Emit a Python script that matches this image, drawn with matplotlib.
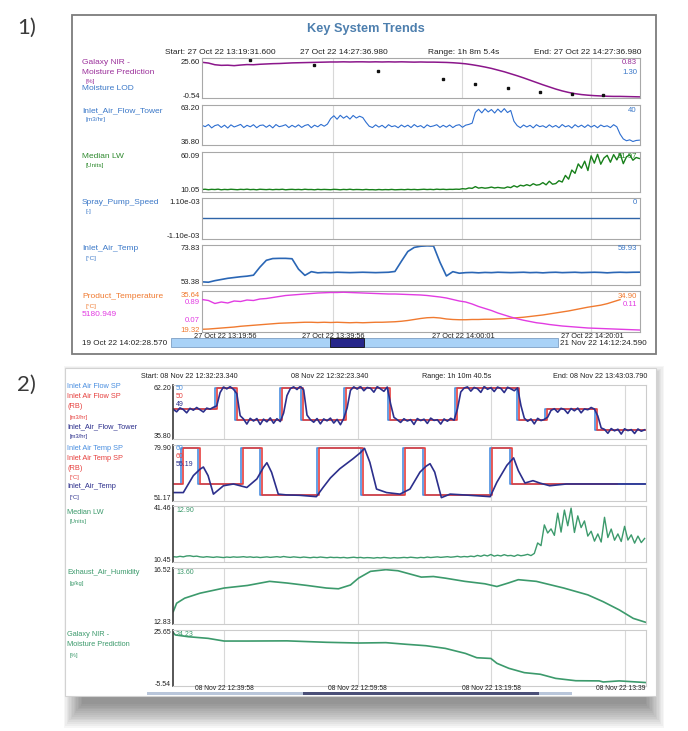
import matplotlib.pyplot as plt
from matplotlib.patches import Rectangle
from matplotlib.transforms import Bbox, TransformedBbox

W, H = 688, 731
plt.rcParams['font.family'] = ['Liberation Sans', 'DejaVu Sans']

# ---------------- panel 1 data (minutes after 27 Oct 22 13:19:31.6) ----------------
p1_minutes = list(range(69))
nir_moisture = [22.8, 22.3, 21.2, 20.8, 20.9, 20.6, 21.0, 21.3, 21.2, 21.5,
                21.7, 21.9, 22.0, 22.2, 22.4, 22.5, 22.6, 22.7, 22.8, 22.9,
                23.0, 23.0, 23.1, 23.0, 23.1, 23.1, 23.0, 23.1, 23.0, 23.1,
                23.0, 23.1, 23.0, 22.9, 23.0, 22.9, 22.9, 22.8, 22.7, 22.5,
                22.2, 21.8, 21.2, 20.5, 19.7, 18.8, 17.7, 16.6, 15.3, 14.0,
                12.6, 11.1, 9.6, 8.1, 6.7, 5.3, 4.1, 3.1, 2.3, 1.7,
                1.3, 1.0, 0.8, 0.6, 0.5, 0.5, 0.4, 0.3, 0.2]
lod_minutes = [7.5, 17.4, 27.4, 37.4, 42.5, 47.5, 52.5, 57.5, 62.4]
lod_values = [24.5, 20.8, 17.3, 11.9, 8.8, 6.2, 3.6, 2.1, 1.3]

half_minutes = [i * 0.5 for i in range(137)]
air_flow_tower = [49.8, 48.9, 50.3, 48.1, 49.6, 50.2, 48.4, 49.9, 48.0, 50.1,
                  48.7, 49.5, 50.4, 48.3, 49.8, 48.8, 50.2, 48.2, 49.7, 50.0,
                  48.5, 49.9, 48.1, 50.3, 48.9, 49.4, 50.2, 48.3, 49.8, 48.6,
                  50.1, 48.4, 49.7, 50.3, 48.2, 49.9, 48.8, 50.4, 49.2, 50.6,
                  54.2, 56.1, 53.8, 56.4, 54.5, 55.9, 53.9, 56.3, 54.6, 55.8, 54.9,
                  51.8, 49.2, 48.3, 50.1, 48.6, 49.8, 48.1, 50.2, 48.9, 49.5,
                  48.2, 50.0, 48.7, 49.9, 48.3, 50.3, 48.8, 49.6, 48.1, 50.1,
                  48.9, 49.4, 50.2, 48.4, 49.8, 48.6, 50.0, 48.3, 49.7, 50.2,
                  48.5, 49.9, 50.4, 51.2,
                  58.3, 60.4, 58.0, 60.7, 58.6, 60.2, 57.9, 60.5, 58.4, 60.8, 58.2, 59.6,
                  52.5, 49.6, 48.2, 50.0, 48.7, 49.8, 48.1, 50.2, 48.9, 49.5,
                  48.3, 50.1, 48.6, 49.7, 48.2, 50.3, 48.8, 49.6, 48.0, 50.2,
                  48.7, 49.9, 48.4, 50.1, 48.6, 49.8, 48.2, 50.0, 48.9, 49.5,
                  48.3, 50.2, 48.8,
                  44.0, 40.8, 39.6, 40.2, 39.1, 39.8, 40.0]
median_lw_1 = [13.2, 13.5, 12.9, 13.4, 13.1, 13.6, 12.8, 13.3, 13.0, 13.5,
               13.2, 12.9, 13.4, 13.1, 13.6, 13.0, 13.3, 12.8, 13.5, 13.2,
               13.0, 13.4, 12.9, 13.3, 13.1, 13.5, 12.8, 13.2, 13.4, 13.0,
               13.3, 12.9, 13.5, 13.1, 13.2, 12.8, 13.4, 13.0, 13.3, 13.1,
               12.9, 13.4, 13.2, 12.8, 13.3, 13.0, 13.5, 12.9, 13.2, 13.1,
               12.8, 13.3, 12.9, 13.0, 12.7, 13.2, 12.8, 13.1, 12.9, 13.3,
               12.8, 13.0, 13.2, 12.9, 13.4, 13.0, 13.3, 12.9, 13.2, 13.5,
               13.1, 13.4, 13.0, 13.6, 13.2, 13.5, 13.1, 13.4, 13.3, 13.6, 13.4,
               14.2, 13.8, 15.1, 14.6, 16.8, 14.9, 15.6, 14.8, 15.3, 16.2,
               15.1, 15.8, 15.2, 14.9, 16.4, 15.5, 17.9, 16.2, 18.5, 17.6,
               19.2, 17.8, 20.4, 18.6, 19.3, 21.8, 19.0, 23.5, 19.8, 20.6, 24.2,
               22.5, 30.8, 26.1, 37.5, 33.4, 45.2, 39.8, 48.6, 36.9, 55.3,
               46.1, 57.2, 44.8, 52.6, 55.9, 47.3, 56.8, 50.2, 58.4, 45.5,
               54.1, 56.6, 49.8, 53.2, 51.97]
spray_minutes = [0, 68.1]
spray_pump_speed = [0.0, 0.0]
inlet_air_temp_1 = [55.0, 54.8, 55.6, 56.2, 56.8, 57.2, 57.6, 57.9, 58.4, 62.5,
                    66.0, 66.9, 67.0, 67.0, 66.8, 61.5, 58.3, 60.2, 59.6, 59.8,
                    59.7, 59.9, 59.8, 59.7, 59.8, 59.9, 59.8, 59.7, 59.8, 59.9,
                    60.3, 65.5, 70.5, 72.6, 73.2, 73.4, 73.3, 65.0, 58.0, 60.2,
                    59.4, 59.7, 59.8, 59.6, 59.8, 59.7, 59.9, 59.8, 59.7, 59.8,
                    59.9, 59.7, 59.8, 59.6, 59.8, 59.9, 59.7, 59.8, 59.9, 59.7,
                    59.8, 59.9, 59.8, 59.6, 59.8, 59.9, 59.8, 59.9, 59.93]
product_temp = [20.4, 20.5, 20.7, 20.9, 21.1, 21.3, 21.6, 21.8, 22.0, 22.2,
                22.4, 22.6, 22.8, 22.9, 23.0, 23.1, 23.2, 23.2, 23.1, 23.2,
                23.1, 23.2, 23.1, 23.0, 23.1, 23.0, 23.1, 23.2, 23.2, 23.3,
                23.4, 23.6, 23.9, 24.3, 24.7, 25.0, 25.1, 24.9, 24.5, 24.3,
                24.2, 24.2, 24.3, 24.3, 24.4, 24.4, 24.5, 24.6, 24.8, 25.0,
                25.2, 25.5, 25.8, 26.1, 26.5, 26.9, 27.3, 27.7, 28.2, 28.7,
                29.2, 29.6, 30.0, 30.6, 31.4, 32.2]
magenta_trace = [0.72, 0.70, 0.64, 0.67, 0.65, 0.69, 0.68, 0.71, 0.70, 0.73,
                 0.74, 0.76, 0.78, 0.80, 0.81, 0.82, 0.83, 0.84, 0.85, 0.855,
                 0.86, 0.86, 0.865, 0.86, 0.855, 0.85, 0.845, 0.84, 0.835, 0.83,
                 0.83, 0.825, 0.82, 0.815, 0.81, 0.80, 0.785, 0.77, 0.75, 0.72,
                 0.69, 0.67, 0.63, 0.58, 0.54, 0.50, 0.45, 0.41, 0.37, 0.335,
                 0.305, 0.28, 0.255, 0.24, 0.22, 0.205, 0.19, 0.18, 0.17, 0.16,
                 0.15, 0.145, 0.14, 0.135, 0.13, 0.125, 0.12, 0.115, 0.11]
p1_grid = [20.4, 40.5, 60.5]
p1_time_labels = ['27 Oct 22 13:19:56', '27 Oct 22 13:39:56', '27 Oct 22 14:00:01', '27 Oct 22 14:20:01']

# ---------------- panel 2 data (minutes after 08 Nov 22 12:32:23.34) ----------------
flow_sp_rb_t = [0, 6.5, 9.5, 16.2, 19.4, 25.9, 32.4, 42.4, 51.7, 55.9, 63.4, 70.7]
flow_sp_t = [0, 6.2, 9.2, 15.9, 19.1, 25.6, 32.1, 42.1, 51.4, 55.6, 63.1, 70.7]
flow_sp = [50.5, 60.9, 45.2, 60.9, 45.2, 60.9, 45.2, 60.9, 45.2, 50.4, 40.3, 40.3]
p2_half_minutes = [i * 0.5 for i in range(142)]
flow_tower_2 = [50.3, 49.1, 51.0, 50.2, 48.6, 50.8, 49.9, 51.2, 50.1, 49.0, 50.9, 50.4, 51.3,
                52.0, 58.5, 61.2, 60.3, 61.4, 60.1,
                58.0, 47.2, 45.6, 43.1, 45.9, 44.6, 45.8, 42.9, 45.5, 44.2, 46.1, 43.5, 45.7, 44.3,
                48.5, 57.0, 60.4, 61.3, 60.0, 61.6,
                59.8, 47.5, 45.3, 44.0, 45.8, 43.2, 45.6, 44.7, 46.0, 43.6, 45.4, 42.8, 45.9,
                51.0, 59.6, 61.3, 60.2, 61.5, 59.4, 61.0, 60.6, 58.7, 61.4, 60.3, 59.1, 61.2,
                53.0, 46.4, 45.2, 43.9, 45.7, 44.6, 45.3, 42.9, 45.8, 44.8,
                45.5, 43.4, 46.0, 44.9, 45.2, 43.1, 45.6, 44.5, 45.9, 45.0,
                50.5, 58.8, 60.7, 61.3, 59.2, 61.0, 60.4, 58.6, 61.5, 60.1,
                60.9, 59.0, 61.2, 60.5, 58.5, 61.1, 60.3, 59.4, 60.8,
                52.1, 46.0, 44.5, 45.6, 43.2, 45.9, 44.8, 45.4,
                46.5, 49.8, 50.6, 48.9, 50.8, 50.2, 48.3, 50.7, 49.6, 50.9, 48.6, 50.5, 50.1, 51.2, 50.4,
                47.0, 41.2, 40.5, 38.6, 40.9, 39.8, 40.6, 38.2, 40.8, 39.9, 40.4, 38.5, 40.7, 39.6, 40.3]
temp_sp_rb_t = [0, 1.5, 4.0, 10.5, 13.2, 21.8, 28.4, 34.7, 37.6, 47.6, 50.6, 66.3]
temp_sp_t = [0, 1.2, 3.7, 10.2, 12.9, 21.5, 28.1, 34.4, 37.3, 47.3, 50.3, 70.7]
temp_sp = [59.9, 78.2, 59.9, 78.2, 54.3, 78.2, 54.3, 78.2, 54.3, 78.2, 59.9, 59.9]
air_temp_t = [0, 1.5, 3.0, 4.0, 4.5, 5.2, 6.0, 7.5, 9.0, 11.0,
              12.5, 13.5, 14.0, 14.7, 15.7, 16.9, 18.9, 21.4, 22.4, 23.5,
              24.9, 26.9, 28.0, 28.6, 29.4, 30.4, 31.9, 33.9, 35.4, 36.9,
              37.8, 38.4, 39.1, 40.1, 41.4, 43.9, 47.4, 48.4, 49.9, 50.9,
              51.6, 52.6, 53.8, 54.8, 56.3, 58.8, 70.7]
air_temp_2 = [55.5, 55.5, 64.2, 67.5, 68.6, 64.2, 54.7, 59.0, 59.9, 58.1,
              62.5, 68.5, 70.8, 65.9, 54.7, 54.3, 54.1, 53.4, 58.1, 63.0,
              67.7, 72.9, 76.0, 78.2, 71.0, 57.3, 55.5, 54.7, 57.3, 66.0,
              69.0, 70.3, 66.0, 52.9, 54.7, 54.2, 53.4, 60.8, 69.5, 73.3,
              66.8, 60.4, 61.6, 60.4, 59.0, 59.9, 59.9]
median_lw_2 = [13.4, 13.2, 13.6, 13.3, 13.8, 13.9, 13.5, 13.7, 13.3, 13.1,
               13.4, 13.2, 13.0, 13.3, 13.1, 12.9, 13.2, 13.0, 13.3, 13.1,
               13.2, 13.4, 13.1, 13.3, 13.0, 13.2, 12.9, 13.1, 13.3, 13.0,
               13.2, 13.4, 13.1, 13.5, 13.2, 13.0, 13.3, 13.1, 12.9, 13.2,
               13.0, 12.8, 13.1, 12.9, 13.2, 13.0, 12.8, 13.1, 12.9, 13.0,
               12.8, 13.0, 12.7, 12.9, 13.1, 12.8, 13.0, 12.7, 12.9, 12.8,
               12.6, 12.9, 12.7, 13.0, 12.8, 12.6, 12.9, 12.7, 12.8, 13.0,
               12.8, 13.1, 12.9, 12.7, 13.0, 12.8, 13.2, 12.9, 13.1, 13.3,
               13.0, 13.2, 13.4, 13.1, 13.3, 13.6, 13.2, 13.5, 13.3, 13.7,
               13.4, 14.1, 13.6, 14.3, 13.8,
               14.6, 13.7, 14.2, 13.8, 14.5, 13.9, 14.1, 13.6, 14.4, 13.9, 14.2, 14.7, 14.0, 15.2,
               21.0, 19.5, 31.0, 26.5, 28.8, 25.2, 37.5, 27.0, 39.2, 30.5,
               40.3, 26.8, 36.0, 29.5, 33.2, 24.8, 27.5, 22.0, 26.0, 21.5,
               35.2, 24.0, 28.7, 22.5, 26.0, 21.8, 30.2, 22.6, 25.5, 20.9,
               24.8, 21.2, 23.5]
humidity_t = [0, 0.5, 1.7, 4.0, 7.6, 11.1, 14.4, 17.0, 20.0, 22.9,
              24.7, 26.5, 27.7, 29.5, 31.8, 33.6, 37.1, 38.9, 40.7, 43.6,
              46.6, 48.4, 50.1, 51.6, 54.3, 58.4, 62.0, 64.3, 66.7, 68.8, 70.6]
exhaust_humidity = [13.65, 14.2, 14.53, 14.86, 15.2, 15.37, 15.64, 15.53, 15.37, 15.2,
                    15.15, 15.4, 15.85, 16.3, 16.41, 16.34, 15.92, 15.96, 15.85, 15.64,
                    15.48, 15.3, 15.53, 15.75, 15.64, 15.2, 14.75, 14.3, 13.76, 13.2, 12.95]
nir_t = [0, 0.3, 2.25, 5.2, 7.6, 11.1, 17.0, 22.9, 27.7, 31.8,
         34.8, 37.8, 40.7, 43.7, 45.4, 47.5, 48.4, 50.2, 52.5, 54.9,
         57.2, 60.2, 63.7, 64.3, 66.7, 70.6]
nir_moisture_2 = [24.2, 22.9, 21.9, 21.0, 19.5, 19.5, 19.6, 18.8, 18.4, 18.6,
                  17.7, 16.9, 15.4, 12.6, 10.2, 9.8, 7.1, 4.3, 1.9, 1.0,
                  -1.3, -2.6, -2.7, -3.3, -2.7, -3.6]
p2_grid = [7.58, 27.58, 47.58, 67.58]
p2_time_labels = ['08 Nov 22 12:39:58', '08 Nov 22 12:59:58', '08 Nov 22 13:19:58', '08 Nov 22 13:39:58']

PURPLE, BLUE, GREEN = '#9a2f9a', '#3b78c8', '#2f8a2f'
ORANGE, MAGENTA = '#f07a30', '#e23ce2'
SPBLUE, RED, NAVY, TEAL = '#4a8fe0', '#e6403e', '#2c2f8c', '#3c9a6c'

fig = plt.figure(figsize=(W / 100, H / 100), dpi=100)


def txt(x, y, s, color='#222222', size=5.2, ha='left', **kw):
    return fig.text(x / W, 1 - y / H, s, color=color, fontsize=size, ha=ha, va='center', **kw)


def box(x0, y0, x1, y1, **kw):
    fig.add_artist(Rectangle((x0 / W, 1 - y1 / H), (x1 - x0) / W, (y1 - y0) / H,
                             transform=fig.transFigure, **kw))


def trend_axes(x0, x1, y0, y1, xmax, grid, ylim, spine, left_spine=None):
    ax = fig.add_axes([x0 / W, 1 - y1 / H, (x1 - x0) / W, (y1 - y0) / H])
    ax.set_xlim(0, xmax)
    ax.set_ylim(*ylim)
    ax.set_xticks(grid)
    ax.set_yticks([])
    ax.tick_params(length=0, labelbottom=False)
    ax.grid(axis='x', color='#d8d8d8', lw=0.8)
    ax.set_axisbelow(True)
    for s in ax.spines.values():
        s.set_color(spine)
        s.set_linewidth(0.8)
    if left_spine:
        ax.spines['left'].set_color(left_spine)
        ax.spines['left'].set_linewidth(1.2)
    return ax


# ======================= panel 1 =======================
txt(17, 28, '1)', color='#3a3a3a', size=16, family=['Lato', 'DejaVu Sans'])
box(72, 15, 656, 354, facecolor='white', edgecolor='#7c7c7c', lw=1.3, zorder=-1)
txt(366, 29, 'Key System Trends', color='#4d7fae', size=9.2, ha='center', weight='bold')
txt(165, 53, 'Start: 27 Oct 22 13:19:31.600', size=6)
txt(344, 53, '27 Oct 22 14:27:36.980', ha='center', size=6)
txt(464, 53, 'Range: 1h 8m 5.4s', ha='center', size=6)
txt(642, 53, 'End: 27 Oct 22 14:27:36.980', ha='right', size=6)

X0, X1, XM = 202, 640, 68.1
rows1 = [(58, 98), (105, 145), (152, 192), (198, 239), (245, 285), (291, 332)]
lims1 = [(-0.54, 25.60), (36.80, 63.20), (10.05, 60.09), (-1.1e-3, 1.1e-3), (53.38, 73.83), (19.32, 35.64)]
ticks1 = [('25.60', '-0.54'), ('63.20', '36.80'), ('60.09', '10.05'), ('1.10e-03', '-1.10e-03'),
          ('73.83', '53.38'), ('35.64', '19.32')]
axs1 = []
for (y0, y1), lim, (top, bot) in zip(rows1, lims1, ticks1):
    ax = trend_axes(X0, X1, y0, y1, XM, p1_grid, lim, '#a8a8a8')
    axs1.append(ax)
    col = ORANGE if top == '35.64' else '#222222'
    txt(200, y0 + 4, top, color=col, ha='right', size=5.6)
    txt(200, y1 - 2, bot, color=col, ha='right', size=5.6)

a = axs1[0]
a.plot(p1_minutes, nir_moisture, color='#8b168b', lw=1.1)
a.plot(lod_minutes, lod_values, ls='none', marker='s', ms=1.7, color='#111111')
axs1[1].plot(half_minutes, air_flow_tower, color='#2d6ed0', lw=0.8)
axs1[2].plot(half_minutes, median_lw_1, color='#17801a', lw=1.0)
axs1[3].plot(spray_minutes, spray_pump_speed, color='#2e64a8', lw=1.0)
axs1[4].plot(p1_minutes, inlet_air_temp_1, color='#2a66b5', lw=1.2)
axs1[5].plot(p1_minutes[:len(product_temp)], product_temp, color=ORANGE, lw=1.0)
tw = axs1[5].twinx()
tw.set_ylim(0.07, 0.89)
tw.set_yticks([])
tw.axis('off')
tw.plot(p1_minutes, magenta_trace, color=MAGENTA, lw=1.0)
txt(200, 303, '0.89', color=MAGENTA, ha='right', size=5.6)
txt(200, 320, '0.07', color=MAGENTA, ha='right', size=5.6)

for x, y, s, c, sz in [(82, 62, 'Galaxy NIR -', PURPLE, 6), (82, 72, 'Moisture Prediction', PURPLE, 6),
                       (85, 81, '[%]', PURPLE, 4.6), (82, 89, 'Moisture LOD', BLUE, 6),
                       (82, 111, 'Inlet_Air_Flow_Tower', BLUE, 6), (85, 119, '[m3/hr]', BLUE, 4.6),
                       (82, 156, 'Median LW', GREEN, 6), (85, 166, '[Units]', GREEN, 4.6),
                       (82, 203, 'Spray_Pump_Speed', BLUE, 6), (85, 212, '[-]', BLUE, 4.6),
                       (82, 249, 'Inlet_Air_Temp', BLUE, 6), (85, 258, '[°C]', BLUE, 4.6),
                       (82, 296, 'Product_Temperature', ORANGE, 6), (85, 306, '[°C]', ORANGE, 4.6),
                       (82, 315, '5180.949', MAGENTA, 6)]:
    txt(x, y, s, color=c, size=sz)

for y, s, c in [(63, '0.83', PURPLE), (72, '1.30', BLUE), (110, '40', BLUE), (156, '51.97', GREEN),
                (203, '0', BLUE), (249, '59.93', BLUE), (296, '34.90', ORANGE), (304, '0.11', MAGENTA)]:
    txt(637, y, s, color=c, ha='right', size=5.6)

for x, s in zip([225, 333, 463, 592], p1_time_labels):
    txt(x, 336, s, ha='center', size=5.3)

box(171, 338, 558, 347, facecolor='#a9d2f7', edgecolor='#7d9fc4', lw=0.6, zorder=2)
box(330, 338, 364, 347, facecolor='#26268a', edgecolor='#111111', lw=0.6, zorder=2)
txt(82, 343, '19 Oct 22 14:02:28.570', size=5.9)
txt(560, 343, '21 Nov 22 14:12:24.590', size=5.9)

# ======================= panel 2 =======================
txt(17, 385, '2)', color='#3a3a3a', size=16, family=['Lato', 'DejaVu Sans'])
# soft drop shadow: growing translucent layers around an offset core
for k in range(14):
    g = k * 1.4
    box(82 - g, 384 - g, 646 + g, 704 + 1.3 * g, facecolor='black', alpha=0.034, lw=0, zorder=-3)
box(65, 368, 656, 696, facecolor='white', edgecolor='#d2d2d2', lw=0.8, zorder=-1)

txt(141, 377, 'Start: 08 Nov 22 12:32:23.340', size=5.2)
txt(330, 377, '08 Nov 22 12:32:23.340', size=5.2, ha='center')
txt(457, 377, 'Range: 1h 10m 40.5s', size=5.2, ha='center')
txt(647, 377, 'End: 08 Nov 22 13:43:03.790', size=5.2, ha='right')

P0, P1, PM = 173.3, 645.8, 70.675
rows2 = [(385, 439), (445, 501), (506, 562), (568, 624), (630, 686)]
lims2 = [(35.80, 62.20), (51.17, 79.90), (10.45, 41.46), (12.83, 16.52), (-5.54, 25.65)]
ticks2 = [('62.20', '35.80'), ('79.90', '51.17'), ('41.46', '10.45'), ('16.52', '12.83'), ('25.65', '-5.54')]
axs2 = []
for (y0, y1), lim, (top, bot) in zip(rows2, lims2, ticks2):
    ax = trend_axes(P0, P1, y0, y1, PM, p2_grid, lim, '#cccccc', left_spine='#3a3a3a')
    axs2.append(ax)
    txt(171, y0 + 3, top, ha='right', size=5)
    txt(171, y1 - 2, bot, ha='right', size=5)

a = axs2[0]
a.plot(flow_sp_t, flow_sp, drawstyle='steps-post', color=SPBLUE, lw=1.2)
a.plot(flow_sp_rb_t, flow_sp, drawstyle='steps-post', color=RED, lw=1.2)
a.plot(p2_half_minutes, flow_tower_2, color=NAVY, lw=1.2)
a = axs2[1]
a.plot(temp_sp_t, temp_sp, drawstyle='steps-post', color=SPBLUE, lw=1.2)
a.plot(temp_sp_rb_t, temp_sp, drawstyle='steps-post', color=RED, lw=1.2)
a.plot(air_temp_t, air_temp_2, color=NAVY, lw=1.2)
axs2[2].plot(p2_half_minutes, median_lw_2, color=TEAL, lw=1.0)
axs2[3].plot(humidity_t, exhaust_humidity, color=TEAL, lw=1.2)
axs2[4].plot(nir_t, nir_moisture_2, color=TEAL, lw=1.2)

for y, s, c, sz in [(387, 'Inlet Air Flow SP', SPBLUE, 5.3), (397, 'Inlet Air Flow SP', RED, 5.3),
                    (407, '(RB)', RED, 5.3), (417, '[m3/hr]', RED, 4.2),
                    (427, 'Inlet_Air_Flow_Tower', NAVY, 5.3), (436, '[m3/hr]', NAVY, 4.2),
                    (449, 'Inlet Air Temp SP', SPBLUE, 5.3), (459, 'Inlet Air Temp SP', RED, 5.3),
                    (469, '(RB)', RED, 5.3), (478, '[°C]', RED, 4.2), (487, 'Inlet_Air_Temp', NAVY, 5.3),
                    (497, '[°C]', NAVY, 4.2),
                    (512, 'Median LW', TEAL, 5.3), (522, '[Units]', TEAL, 4.2),
                    (573, 'Exhaust_Air_Humidity', TEAL, 5.3), (584, '[g/kg]', TEAL, 4.2),
                    (635, 'Galaxy NIR -', TEAL, 5.3), (645, 'Moisture Prediction', TEAL, 5.3),
                    (656, '[%]', TEAL, 4.2)]:
    txt(70 if sz < 5 else 67, y, s, color=c, size=sz)

for y, s, c in [(388, '50', SPBLUE), (397, '50', RED), (405, '49', NAVY),
                (448, '60', SPBLUE), (457, '60', RED), (465, '55.19', NAVY),
                (511, '12.90', TEAL), (573, '13.60', TEAL), (635, '24.23', TEAL)]:
    txt(176, y, s, color=c, size=5)

clip = TransformedBbox(Bbox([[0, 0], [646 / W, 1]]), fig.transFigure)
for x, s in zip([224, 357, 491, 625], p2_time_labels):
    t = txt(x, 689, s, ha='center', size=4.85)
    t.set_clip_box(clip)
    t.set_clip_on(True)

box(147, 692, 572, 695, facecolor='#b9c6da', lw=0, zorder=2)
box(303, 692, 539, 695, facecolor='#4b5078', lw=0, zorder=2)

fig.savefig('out.png', dpi=100, facecolor='white')
